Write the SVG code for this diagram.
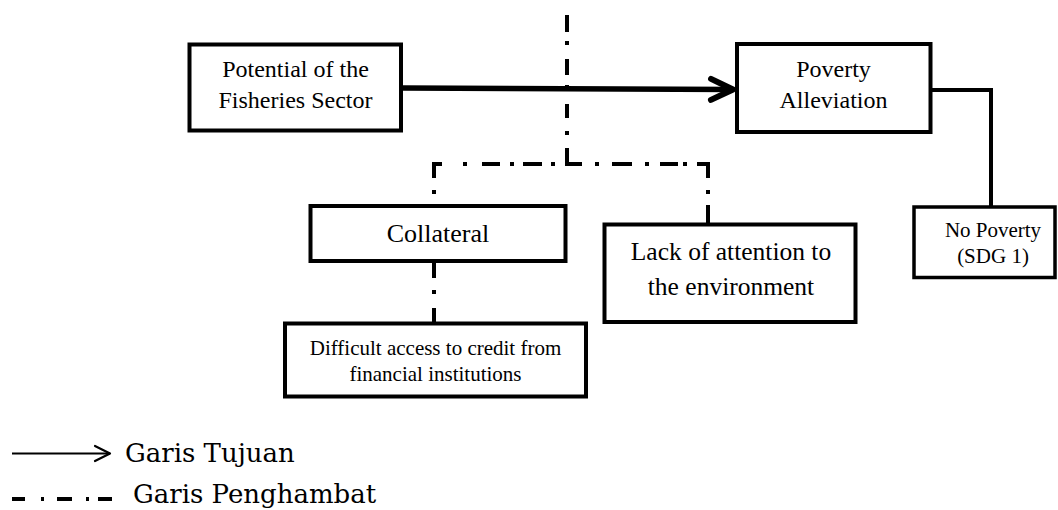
<svg xmlns="http://www.w3.org/2000/svg" width="1058" height="510" viewBox="0 0 1058 510">
  <style>
    .box { fill: #fff; stroke: #000; stroke-width: 4; }
    .box-thin { fill: #fff; stroke: #000; stroke-width: 3.5; }
    .lbl { fill: #000; text-anchor: middle; }
    .goal { fill: none; stroke: #000; stroke-width: 5.5; }
    .link { fill: none; stroke: #000; stroke-width: 4; }
    .inhibit { fill: none; stroke: #000; stroke-width: 4; stroke-linecap: butt; }
    .legend-txt { fill: #000; }
  </style>
  <defs>
    <marker id="chevron" markerUnits="userSpaceOnUse" orient="auto" refX="0" refY="0" markerWidth="40" markerHeight="40" viewBox="-30 -20 40 40" overflow="visible">
      <path d="M-22,-10.5 L0,0 L-22,10.5" fill="none" stroke="#000" stroke-width="6" stroke-linecap="round" stroke-linejoin="round"/>
    </marker>
    <marker id="chevron-thin" markerUnits="userSpaceOnUse" orient="auto" refX="0" refY="0" markerWidth="30" markerHeight="30" viewBox="-20 -15 30 30" overflow="visible">
      <path d="M-15,-7.5 L0,0 L-15,7.5" fill="none" stroke="#000" stroke-width="2.2" stroke-linecap="round" stroke-linejoin="round"/>
    </marker>
  </defs>

  <rect width="1058" height="510" fill="#fff"/>

  <!-- connectors -->
  <g id="connectors">
    <!-- goal line: fisheries potential to poverty alleviation -->
    <path class="goal" d="M403,88 L733,89.5" marker-end="url(#chevron)"/>
    <!-- poverty alleviation to SDG 1 -->
    <path class="link" d="M932,90 H991 V206"/>
    <!-- inhibiting (dash-dot) lines -->
    <path class="inhibit" d="
      M567,15V32 M567,41V45 M567,59V75 M567,85V89 M567,104V118 M567,131V135 M567,148V166
      M565,164H582 M595,164H599 M612,164H632 M645,164H649 M660,164H678 M683,164H687 M697,164H710
      M708,162V178 M708,190V194 M708,205V223
      M555,164H551 M542,164H523 M514,164H510 M500,164H482 M467,164H463 M442,164H432
      M434,162V178 M434,190V194
      M434,263V278 M434,290V294 M434,308V322"/>
  </g>

  <g id="nodes" font-family="Liberation Serif, Times New Roman, serif">
    <g id="node-potential">
      <rect class="box" x="189.5" y="44.5" width="211.5" height="86"/>
      <text class="lbl" font-family="Liberation Serif" font-size="24" x="295.5" y="77">Potential of the</text>
      <text class="lbl" font-family="Liberation Serif" font-size="24" x="295.5" y="108">Fisheries Sector</text>
    </g>

    <g id="node-poverty">
      <rect class="box" x="737" y="44" width="193.5" height="88"/>
      <text class="lbl" font-family="Liberation Serif" font-size="24" x="833.5" y="77">Poverty</text>
      <text class="lbl" font-family="Liberation Serif" font-size="24" x="833.5" y="108">Alleviation</text>
    </g>

    <g id="node-sdg1">
      <rect class="box-thin" x="914" y="207" width="141" height="70.5"/>
      <text class="lbl" font-family="Liberation Serif" font-size="21" x="993" y="237">No Poverty</text>
      <text class="lbl" font-family="Liberation Serif" font-size="21" x="993" y="263">(SDG 1)</text>
    </g>

    <g id="node-collateral">
      <rect class="box" x="310.5" y="206" width="255" height="55"/>
      <text class="lbl" font-family="Liberation Serif" font-size="26" x="438" y="242">Collateral</text>
    </g>

    <g id="node-environment">
      <rect class="box" x="604.5" y="224.5" width="251" height="97.5"/>
      <text class="lbl" font-family="Liberation Serif" font-size="25.5" x="731" y="260">Lack of attention to</text>
      <text class="lbl" font-family="Liberation Serif" font-size="25.5" x="731" y="295">the environment</text>
    </g>

    <g id="node-credit">
      <rect class="box" x="285" y="323.5" width="301" height="73"/>
      <text class="lbl" font-family="Liberation Serif" font-size="21" x="435.5" y="355">Difficult access to credit from</text>
      <text class="lbl" font-family="Liberation Serif" font-size="21" x="435.5" y="381">financial institutions</text>
    </g>
  </g>

  <!-- legend -->
  <g id="legend">
    <path d="M12,453.5 H110" fill="none" stroke="#000" stroke-width="2" marker-end="url(#chevron-thin)"/>
    <text class="legend-txt" font-family="DejaVu Serif" font-size="26" x="125" y="462">Garis Tujuan</text>
    <path class="inhibit" stroke-width="5" d="M12,499H25 M41,499H44 M57,499H72 M86,499H89 M98,499H112"/>
    <text class="legend-txt" font-family="DejaVu Serif" font-size="26" x="133" y="503">Garis Penghambat</text>
  </g>
</svg>
